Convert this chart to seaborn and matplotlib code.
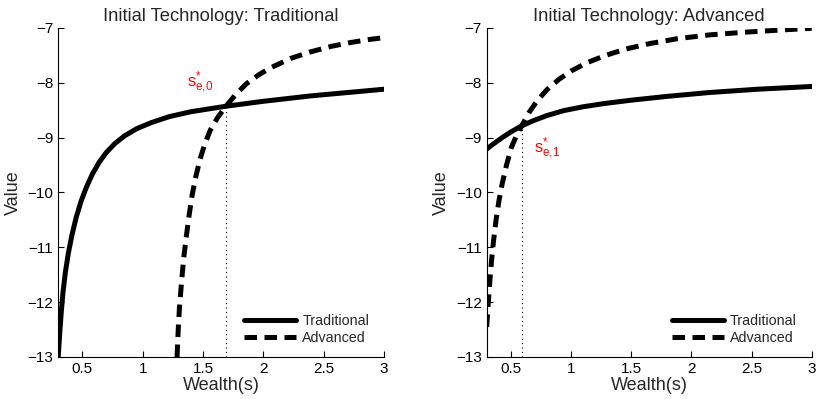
import numpy as np
import pandas as pd
import matplotlib
matplotlib.use("Agg")
import matplotlib.pyplot as plt
import seaborn as sns

# ---------------- data ----------------
# Panel 1: initial technology = Traditional
p1_trad_x = [0.300, 0.312, 0.325, 0.340, 0.360, 0.385, 0.415, 0.450, 0.490, 0.535, 0.585,
             0.640, 0.700, 0.770, 0.850, 0.950, 1.070, 1.220, 1.400, 1.690, 2.000, 2.400, 3.000]
p1_trad_v = [-13.00, -12.60, -12.20, -11.82, -11.45, -11.10, -10.77, -10.45, -10.16, -9.90, -9.66,
             -9.45, -9.27, -9.11, -8.97, -8.84, -8.73, -8.62, -8.53, -8.43, -8.34, -8.24, -8.12]
p1_adv_x = [1.285, 1.295, 1.305, 1.320, 1.340, 1.362, 1.385, 1.410, 1.440, 1.475, 1.515, 1.560,
            1.620, 1.690, 1.770, 1.860, 1.960, 2.060, 2.225, 2.390, 2.560, 2.720, 2.890, 3.000]
p1_adv_v = [-13.00, -12.50, -12.10, -11.70, -11.20, -10.80, -10.42, -10.05, -9.72, -9.40, -9.12, -8.87,
            -8.64, -8.43, -8.22, -8.02, -7.86, -7.73, -7.56, -7.44, -7.34, -7.27, -7.21, -7.18]

# Panel 2: initial technology = Advanced
p2_trad_x = [0.30, 0.36, 0.43, 0.50, 0.58, 0.68, 0.80, 0.94, 1.10, 1.28, 1.50, 1.80, 2.15, 2.55, 3.00]
p2_trad_v = [-9.21, -9.11, -9.00, -8.90, -8.80, -8.70, -8.60, -8.51, -8.44, -8.38, -8.32, -8.25, -8.18, -8.12, -8.07]
p2_adv_x = [0.300, 0.312, 0.325, 0.340, 0.357, 0.378, 0.402, 0.430, 0.465, 0.505, 0.545, 0.590,
            0.650, 0.720, 0.800, 0.900, 1.000, 1.130, 1.280, 1.450, 1.650, 1.880, 2.150, 2.450, 2.750, 3.000]
p2_adv_v = [-12.45, -12.05, -11.65, -11.25, -10.88, -10.50, -10.15, -9.83, -9.50, -9.18, -8.98, -8.79,
            -8.55, -8.33, -8.13, -7.94, -7.79, -7.64, -7.51, -7.39, -7.29, -7.20, -7.13, -7.08, -7.04, -7.01]

# thresholds s*_{e,0}, s*_{e,1}
cross_x = [1.69, 0.59]
cross_v = [-8.43, -8.79]
thresh_labels = [r"$\mathregular{s^{*}_{e{,}0}}$", r"$\mathregular{s^{*}_{e{,}1}}$"]
thresh_label_pos = [(1.37, -8.06), (0.695, -9.27)]

titles = ["Initial Technology: Traditional", "Initial Technology: Advanced"]
series_names = ["Traditional", "Advanced"]
xticks = [0.5, 1, 1.5, 2, 2.5, 3]
yticks = [-13, -12, -11, -10, -9, -8, -7]

# ---------------- style ----------------
sns.set_style("ticks")
plt.rcParams["font.family"] = ["Liberation Sans", "DejaVu Sans"]
plt.rcParams["mathtext.fontset"] = "custom"
plt.rcParams["mathtext.rm"] = "Liberation Sans"
plt.rcParams["xtick.direction"] = "in"
plt.rcParams["ytick.direction"] = "in"

fig = plt.figure(figsize=(8.17, 3.99), dpi=100)
axes = [fig.add_axes([0.0712, 0.1053, 0.3988, 0.8251]),
        fig.add_axes([0.5957, 0.1053, 0.3978, 0.8251])]

panels = [
    (p1_trad_x, p1_trad_v, p1_adv_x, p1_adv_v),
    (p2_trad_x, p2_trad_v, p2_adv_x, p2_adv_v),
]

LW = 3.6
for i, ax in enumerate(axes):
    tx, tv, axx, av = panels[i]
    df_t = pd.DataFrame({"Wealth": tx, "Value": tv})
    df_a = pd.DataFrame({"Wealth": axx, "Value": av})
    sns.lineplot(data=df_t, x="Wealth", y="Value", ax=ax, color="black", lw=LW,
                 estimator=None, sort=False, label=series_names[0])
    sns.lineplot(data=df_a, x="Wealth", y="Value", ax=ax, color="black", lw=LW,
                 estimator=None, sort=False, label=series_names[1],
                 linestyle=(0, (2.5, 1.5)))
    ax.vlines(cross_x[i], -13, cross_v[i], colors="black", linestyles=(0, (1, 3)), lw=0.8)
    ax.text(thresh_label_pos[i][0], thresh_label_pos[i][1], thresh_labels[i],
            color="red", fontsize=12, ha="left", va="baseline")

    ax.set_xlim(0.3, 3)
    ax.set_ylim(-13, -7)
    ax.set_xticks(xticks)
    ax.set_xticklabels([f"{t:g}" for t in xticks])
    ax.set_yticks(yticks)
    ax.tick_params(axis="both", labelsize=11, length=4, width=0.8, colors="black", pad=3.5)
    for s in ["top", "right"]:
        ax.spines[s].set_visible(False)
    for s in ["left", "bottom"]:
        ax.spines[s].set_linewidth(0.8)
        ax.spines[s].set_color("black")
    ax.set_xlabel("Wealth(s)", fontsize=13, labelpad=1)
    ax.set_ylabel("Value", fontsize=13, labelpad=4)
    ax.set_title(titles[i], fontsize=13.2, pad=5)
    leg = ax.legend(loc="lower right", bbox_to_anchor=(0.972, 0.02), frameon=False,
                    fontsize=10.3, handlelength=3.6, handletextpad=0.45, labelspacing=0.22,
                    borderaxespad=0.0)

fig.savefig("out.png", dpi=100)
